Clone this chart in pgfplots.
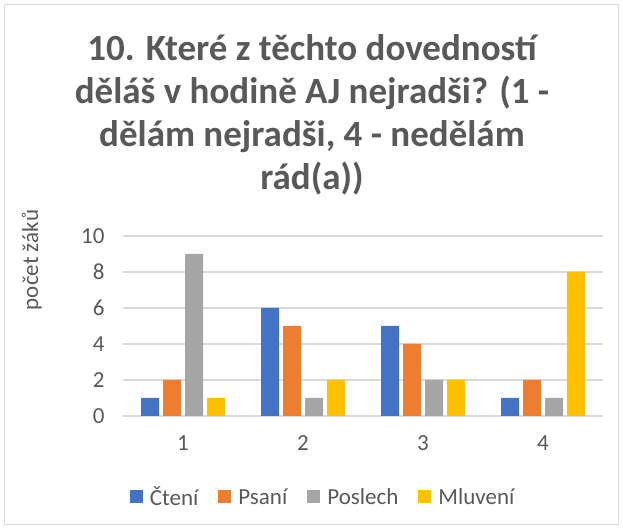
\documentclass[border=0pt]{standalone}
\usepackage{fontspec}
\setmainfont{Carlito}
\usepackage{pgfplots}
\pgfplotsset{compat=1.18}
\definecolor{cteni}{HTML}{4472C4}
\definecolor{psani}{HTML}{ED7D31}
\definecolor{poslech}{HTML}{A5A5A5}
\definecolor{mluveni}{HTML}{FFC000}
\definecolor{txt}{HTML}{595959}
\definecolor{gridgray}{HTML}{D9D9D9}

\begin{document}
\begin{tikzpicture}[x=1pt,y=1pt]
% chart frame (image coords flipped: y = 529 - y_img)
\path (0,0) rectangle (623,529);
\draw[gridgray, line width=1pt] (4.5,4) rectangle (618,524);

\node[align=center, text=txt, font=\fontsize{37}{43}\selectfont\bfseries]
  at (312,414) {10. Které z těchto dovedností\\děláš v hodině AJ nejradši? (1 -\\dělám nejradši, 4 - nedělám\\rád(a))};

\begin{axis}[
    at={(123pt,113pt)}, anchor=south west,
    scale only axis,
    width=480pt, height=180pt,
    ymin=0, ymax=10,
    ytick={0,2,4,6,8,10},
    xmin=0.5, xmax=4.5,
    xtick={1,2,3,4},
    ybar=4pt, bar width=18pt,
    axis line style={draw=none},
    tick style={draw=none},
    ymajorgrids,
    grid style={draw=gridgray, line width=1.5pt},
    tick label style={text=txt, font=\fontsize{23}{27}\selectfont},
    /pgf/number format/assume math mode=true,
    yticklabel style={xshift=-15pt},
    xticklabel style={yshift=-12pt},
    ylabel={počet žáků},
    every axis y label/.style={at={(axis description cs:-0.19,0.867)}, rotate=90, anchor=center},
    ylabel style={text=txt, font=\fontsize{23}{27}\selectfont},
    legend columns=4,
    legend style={draw=none, fill=none, text=txt, font=\fontsize{23}{27}\selectfont,
        at={(0.417,-0.45)}, anchor=center,
        /tikz/every odd column/.append style={column sep=5pt},
        /tikz/every even column/.append style={column sep=18pt}},
    legend image code/.code={\fill[#1] (0pt,-6.5pt) rectangle (13pt,6.5pt);},
]
\addplot[fill=cteni, draw=none] coordinates {(1,1) (2,6) (3,5) (4,1)};
\addplot[fill=psani, draw=none] coordinates {(1,2) (2,5) (3,4) (4,2)};
\addplot[fill=poslech, draw=none] coordinates {(1,9) (2,1) (3,2) (4,1)};
\addplot[fill=mluveni, draw=none] coordinates {(1,1) (2,2) (3,2) (4,8)};
\legend{Čtení, Psaní, Poslech, Mluvení}
\end{axis}
\end{tikzpicture}
\end{document}
